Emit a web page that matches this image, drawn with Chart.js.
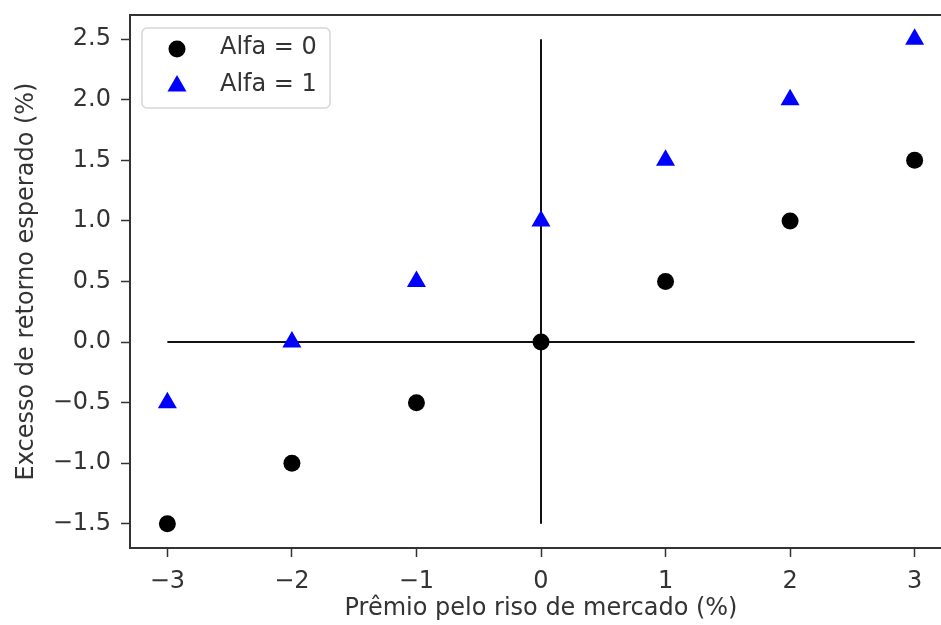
<!DOCTYPE html>
<html>
<head>
<meta charset="utf-8">
<script src="https://cdn.jsdelivr.net/npm/chart.js@4.4.1/dist/chart.umd.min.js"></script>
<style>
  html, body { margin: 0; padding: 0; background: #fff; overflow: hidden; }
  #wrap { width: 970px; height: 625px; }
</style>
</head>
<body>
<div id="wrap"><canvas id="chart" width="970" height="625" style="width:970px;height:625px"></canvas></div>
<script>
    // Data
    const premio = [-3, -2, -1, 0, 1, 2, 3];
    const alfa0 = [-1.5, -1.0, -0.5, 0.0, 0.5, 1.0, 1.5];
    const alfa1 = [-0.5, 0.0, 0.5, 1.0, 1.5, 2.0, 2.5];

    // Reference cross lines
    const hLineX = [-3, 3];
    const hLineY = [0, 0];
    const vLineX = [0, 0];
    const vLineY = [-1.5, 2.5];

    const xTicks = [-3, -2, -1, 0, 1, 2, 3];
    const yTicks = [-1.5, -1.0, -0.5, 0.0, 0.5, 1.0, 1.5, 2.0, 2.5];

    const FONT = 'DejaVu Sans';
    const textColor = '#333333';

    function pts(xs, ys) {
        return xs.map((x, i) => ({ x: x, y: ys[i] }));
    }

    function fmt(v, digits) {
        const s = Math.abs(v).toFixed(digits);
        return (v < 0 ? '\u2212' : '') + s;
    }

    // frame around the plot area (all four spines)
    const framePlugin = {
        id: 'frame',
        beforeDatasetsDraw(chart) {
            const a = chart.chartArea, ctx = chart.ctx;
            ctx.save();
            ctx.strokeStyle = '#333';
            ctx.lineWidth = 2;
            ctx.strokeRect(a.left, a.top, a.right - a.left, a.bottom - a.top);
            ctx.restore();
        }
    };

    // matplotlib-style legend in the upper left corner
    const legendPlugin = {
        id: 'boxLegend',
        afterDatasetsDraw(chart) {
            const ctx = chart.ctx, a = chart.chartArea;
            const items = chart.data.datasets.filter(d => d.label);
            const x = a.left + 12, y = a.top + 13, w = 188, h = 80, r = 5;
            ctx.save();
            ctx.fillStyle = 'rgba(255,255,255,0.85)';
            ctx.strokeStyle = '#d6d6d6';
            ctx.lineWidth = 1.5;
            ctx.beginPath();
            ctx.roundRect(x, y, w, h, r);
            ctx.fill();
            ctx.stroke();
            ctx.font = '24px "' + FONT + '"';
            ctx.textBaseline = 'middle';
            items.forEach((d, i) => {
                const cy = y + 21 + i * 37;
                const rr = d.pointRadius;
                ctx.fillStyle = d.backgroundColor;
                ctx.beginPath();
                if (d.pointStyle === 'circle') {
                    ctx.arc(x + 35, cy, rr, 0, Math.PI * 2);
                } else {
                    ctx.moveTo(x + 35, cy - rr);
                    ctx.lineTo(x + 35 + rr * Math.sqrt(3) / 2, cy + rr / 2);
                    ctx.lineTo(x + 35 - rr * Math.sqrt(3) / 2, cy + rr / 2);
                    ctx.closePath();
                }
                ctx.fill();
                ctx.fillStyle = textColor;
                ctx.fillText(d.label, x + 78, cy - 1);
            });
            ctx.restore();
        }
    };

    const ctx = document.getElementById('chart').getContext('2d');
    new Chart(ctx, {
        type: 'scatter',
        data: {
            datasets: [
                {
                    label: 'Alfa = 0',
                    data: pts(premio, alfa0),
                    pointStyle: 'circle',
                    pointRadius: 8.5,
                    backgroundColor: '#000000',
                    borderWidth: 0,
                    order: 1
                },
                {
                    label: 'Alfa = 1',
                    data: pts(premio, alfa1),
                    pointStyle: 'triangle',
                    pointRadius: 11,
                    backgroundColor: '#0000ff',
                    borderWidth: 0,
                    order: 1
                },
                {
                    data: pts(hLineX, hLineY),
                    showLine: true,
                    borderColor: '#111',
                    borderWidth: 2,
                    pointRadius: 0,
                    order: 3
                },
                {
                    data: pts(vLineX, vLineY),
                    showLine: true,
                    borderColor: '#111',
                    borderWidth: 2,
                    pointRadius: 0,
                    order: 3
                }
            ]
        },
        options: {
            responsive: false,
            animation: false,
            layout: { padding: { top: 15, right: 18, left: 0, bottom: 0 } },
            plugins: {
                legend: { display: false },
                tooltip: { enabled: false }
            },
            scales: {
                x: {
                    type: 'linear',
                    min: -3.3,
                    max: 3.3,
                    afterBuildTicks: s => { s.ticks = xTicks.map(v => ({ value: v })); },
                    afterFit: s => { s.height = 77; s.paddingLeft = 0; s.paddingRight = 0; },
                    grid: { drawOnChartArea: false, tickLength: 9, tickColor: '#333', tickWidth: 1.5 },
                    border: { display: false },
                    ticks: {
                        color: textColor,
                        font: { family: FONT, size: 24 },
                        padding: 10,
                        maxRotation: 0,
                        callback: v => fmt(v, 0)
                    },
                    title: {
                        display: true,
                        text: 'Prêmio pelo riso de mercado (%)',
                        color: textColor,
                        font: { family: FONT, size: 24 },
                        padding: { top: 0, bottom: 2 }
                    }
                },
                y: {
                    type: 'linear',
                    min: -1.7,
                    max: 2.7,
                    afterBuildTicks: s => { s.ticks = yTicks.map(v => ({ value: v })); },
                    afterFit: s => { s.width = 130; s.paddingTop = 0; s.paddingBottom = 0; },
                    grid: { drawOnChartArea: false, tickLength: 9, tickColor: '#333', tickWidth: 1.5 },
                    border: { display: false },
                    ticks: {
                        color: textColor,
                        font: { family: FONT, size: 24 },
                        padding: 10,
                        callback: v => fmt(v, 1)
                    },
                    title: {
                        display: true,
                        text: 'Excesso de retorno esperado (%)',
                        color: textColor,
                        font: { family: FONT, size: 24 },
                        padding: { top: 12, bottom: 0 }
                    }
                }
            }
        },
        plugins: [framePlugin, legendPlugin]
    });
</script>
</body>
</html>
